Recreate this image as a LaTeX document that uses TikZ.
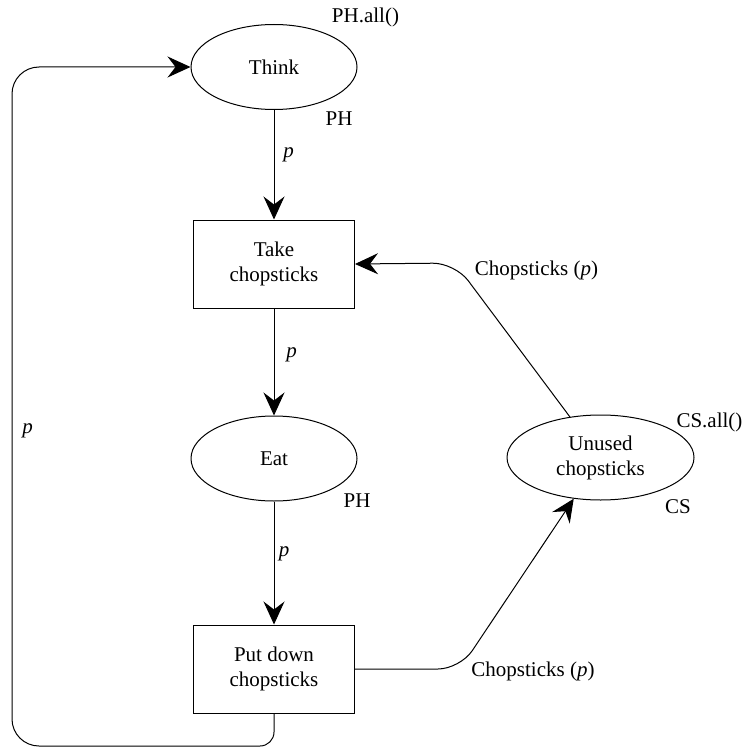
\documentclass[tikz,border=0pt]{standalone}
\usepackage{fontspec}
\setmainfont{Liberation Serif}
\usetikzlibrary{arrows.meta,shapes.geometric}
\begin{document}
\begin{tikzpicture}[x=1pt,y=-1pt,
  every node/.style={font=\fontsize{21pt}{25pt}\selectfont},
  place/.style={draw,ellipse,line width=1pt,inner sep=0pt,minimum width=166pt,minimum height=85pt,align=center},
  trans/.style={draw,rectangle,line width=1pt,inner sep=0pt,minimum width=161pt,minimum height=88pt,align=center},
  arc/.style={line width=1pt,-{Stealth[length=23pt,width=21pt,inset=8pt]}},
  lbl/.style={anchor=base,inner sep=0pt}]
\useasboundingbox (0,0) rectangle (746,749);
\node[place] (th) at (274,67) {Think};
\node[trans] (tk) at (274,264) {Take\\chopsticks};
\node[place] (ea) at (274,458.5) {Eat};
\node[trans] (pd) at (274,669) {Put down\\chopsticks};
\node[place,minimum width=187pt] (un) at (600.5,457.5) {Unused\\chopsticks};
\coordinate (w1) at (455,263);
\coordinate (w2) at (460,669);
\coordinate (l1) at (274,746);
\coordinate (l2) at (12,746);
\coordinate (l3) at (12,67);
\draw[arc] (th) -- (tk);
\draw[arc] (tk) -- (ea);
\draw[arc] (ea) -- (pd);
\draw[arc,rounded corners=22pt] (un.127) -- (w1) -- (tk.east);
\draw[arc,rounded corners=22pt] (pd.east) -- (w2) -- (un.237);
\draw[arc,rounded corners=14pt] (pd.south) -- (l1) [rounded corners=27pt] -- (l2) -- (l3) -- (th.west);
\node[lbl] (t1) at (365.5,23) {PH.all()};
\node[lbl] (t2) at (339,125) {PH};
\node[lbl] (t3) at (288.5,157.5) {\textit{p}};
\node[lbl] (t4) at (291.5,357) {\textit{p}};
\node[lbl] (t5) at (357,507) {PH};
\node[lbl] (t6) at (284,556) {\textit{p}};
\node[lbl] (t7) at (27.5,433) {\textit{p}};
\node[lbl] (t8) at (536.5,275) {Chopsticks (\textit{p})};
\node[lbl] (t9) at (533,676) {Chopsticks (\textit{p})};
\node[lbl] (t10) at (709.5,427) {CS.all()};
\node[lbl] (t11) at (678,513) {CS};
\end{tikzpicture}
\end{document}
